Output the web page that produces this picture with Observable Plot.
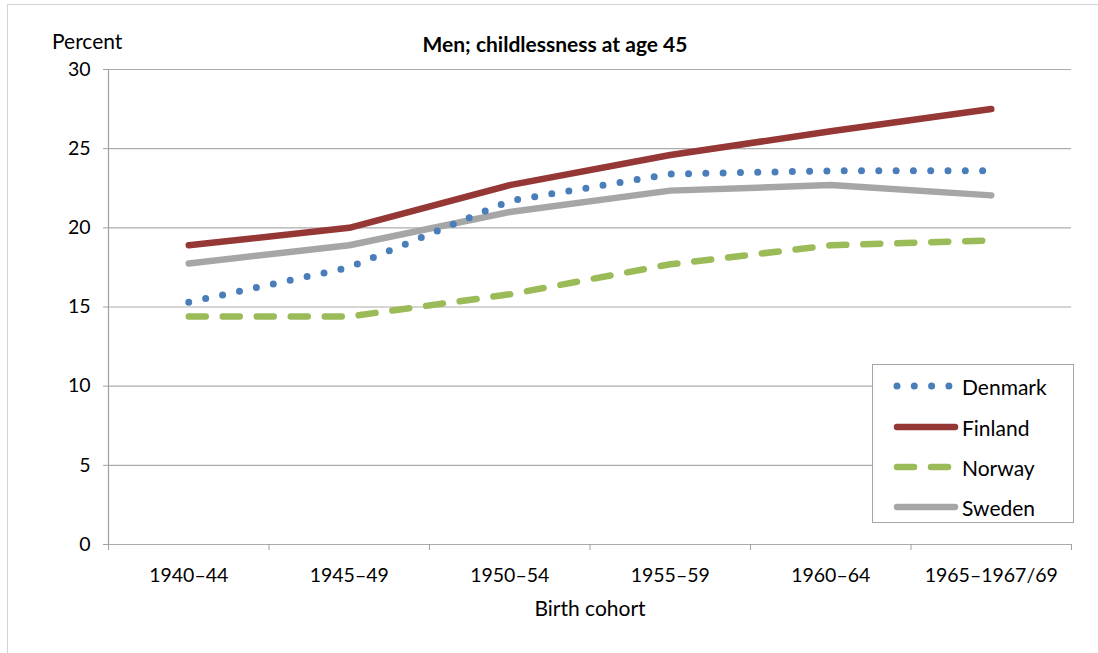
<!DOCTYPE html>
<html>
<head>
<meta charset="utf-8">
<script src="https://cdn.jsdelivr.net/npm/d3@7"></script>
<script src="https://cdn.jsdelivr.net/npm/@observablehq/plot@0.6"></script>
<style>
  html, body { margin: 0; padding: 0; background: #fff; }
  #wrap { position: relative; width: 1098px; height: 653px; overflow: hidden; font-family: Lato, "Open Sans", sans-serif; color: #000; }
  #frame { position: absolute; left: 7px; top: 4px; width: 1200px; height: 800px; border-left: 1px solid #d4d4d4; border-top: 1px solid #d4d4d4; }
  .lbl { position: absolute; white-space: nowrap; line-height: 1; }
  #legend { position: absolute; left: 872px; top: 364px; width: 202px; height: 159px; background: #fff; border: 1px solid #a6a6a6; box-sizing: border-box; }
  .entry { position: absolute; left: 0; height: 24px; display: flex; align-items: center; font-size: 21px; }
  .entry svg { margin-left: 20px; margin-right: 3px; }
</style>
</head>
<body>
<div id="wrap">
  <div id="frame"></div>
  <div id="chart"></div>
  <div class="lbl" id="title" style="font-weight:bold;font-size:21px;left:0;width:1110px;text-align:center;top:33px;">Men; childlessness at age 45</div>
  <div class="lbl" style="font-size:21px;left:52px;top:30px;">Percent</div>
  <div class="lbl" style="font-size:21px;left:0;width:1180px;text-align:center;top:597px;">Birth cohort</div>
  <div id="legend"></div>
</div>
<script>
const cohorts = ["1940–44", "1945–49", "1950–54", "1955–59", "1960–64", "1965–1967/69"];
const countries = ["Denmark", "Finland", "Norway", "Sweden"];
const denmark = [15.3, 17.5, 21.7, 23.4, 23.6, 23.6];
const finland = [18.9, 20.0, 22.7, 24.6, 26.1, 27.5];
const norway  = [14.4, 14.4, 15.8, 17.7, 18.9, 19.2];
const sweden  = [17.75, 18.9, 21.0, 22.35, 22.7, 22.05];
const yTicks = [0, 5, 10, 15, 20, 25, 30];

const seriesValues = {Denmark: denmark, Finland: finland, Norway: norway, Sweden: sweden};
const styles = {
  Denmark: {stroke: "#4a7ebb", strokeWidth: 7, strokeDasharray: "0,17.3", strokeLinecap: "round"},
  Finland: {stroke: "#953735", strokeWidth: 6.5, strokeLinecap: "round"},
  Norway:  {stroke: "#9bbb59", strokeWidth: 6.5, strokeDasharray: "17,17", strokeLinecap: "round"},
  Sweden:  {stroke: "#a6a6a6", strokeWidth: 6.5, strokeLinecap: "round"}
};
const rows = [];
for (const c of countries) seriesValues[c].forEach((v, i) => rows.push({country: c, i, value: v}));
const boundaries = d3.range(cohorts.length + 1).map(i => i - 0.5);

const drawOrder = ["Sweden", "Norway", "Finland", "Denmark"];
const lineMarks = drawOrder.map(c =>
  Plot.line(rows.filter(r => r.country === c), {x: "i", y: "value", ...styles[c], strokeLinejoin: "round"})
);

const chart = Plot.plot({
  width: 1098, height: 653,
  marginLeft: 108, marginRight: 27, marginTop: 69, marginBottom: 109,
  style: {fontFamily: "Lato, 'Open Sans', sans-serif", fontSize: "19.5px", color: "#000", background: "transparent"},
  x: {type: "linear", domain: [-0.5, cohorts.length - 0.5]},
  y: {domain: [0, 30]},
  marks: [
    Plot.ruleY(yTicks, {stroke: "#acacac", strokeWidth: 1.2}),
    Plot.ruleX([-0.5], {stroke: "#a0a0a0", strokeWidth: 1.2}),
    Plot.axisY({ticks: yTicks, tickSize: 5, tickPadding: 13, stroke: "#a0a0a0", label: null, fill: "#000"}),
    Plot.axisX({ticks: boundaries, tickSize: 6, tickFormat: () => "", stroke: "#a0a0a0", label: null}),
    Plot.axisX({ticks: d3.range(cohorts.length), tickSize: 0, tickPadding: 24, tickFormat: i => cohorts[i], label: null, fill: "#000"}),
    ...lineMarks
  ]
});
document.getElementById("chart").appendChild(chart);

// legend
const legend = document.getElementById("legend");
const rowTops = [9, 50, 90, 130];
countries.forEach((c, k) => {
  const e = document.createElement("div");
  e.className = "entry";
  e.style.top = rowTops[k] + "px";
  const s = styles[c];
  e.innerHTML = `<svg width="66" height="12"><line x1="4" x2="62" y1="6" y2="6" stroke="${s.stroke}" stroke-width="${s.strokeWidth}" stroke-linecap="round" ${s.strokeDasharray ? `stroke-dasharray="${s.strokeDasharray}"` : ""}/></svg><span>${c}</span>`;
  legend.appendChild(e);
});
</script>
</body>
</html>
